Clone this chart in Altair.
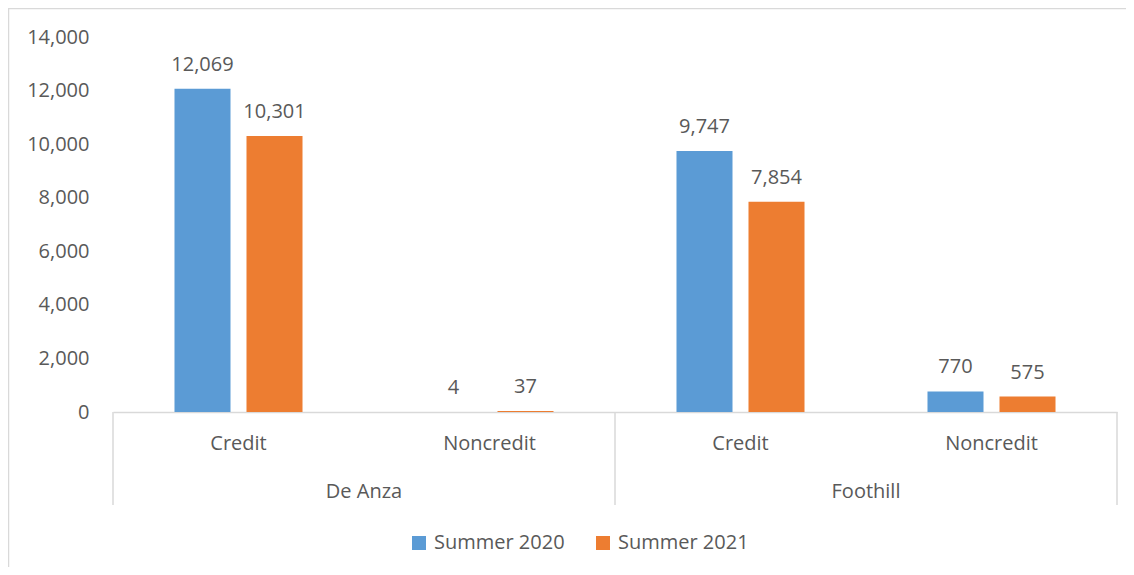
import altair as alt
import pandas as pd

colleges = ["De Anza", "De Anza", "Foothill", "Foothill"]
types = ["Credit", "Noncredit", "Credit", "Noncredit"]
summer_2020 = [12069, 4, 9747, 770]
summer_2021 = [10301, 37, 7854, 575]
series = ["Summer 2020", "Summer 2021"]
colors = ["#5B9BD5", "#ED7D31"]
y_ticks = [0, 2000, 4000, 6000, 8000, 10000, 12000, 14000]
group_names = ["De Anza", "Foothill"]

cat_order = [f"{c}|{t}" for c, t in zip(colleges, types)]
rows = []
for key, v0, v1 in zip(cat_order, summer_2020, summer_2021):
    rows.append({"cat": key, "series": series[0], "value": v0})
    rows.append({"cat": key, "series": series[1], "value": v1})
df = pd.DataFrame(rows)

W, H = 1004, 375
TXT = "#595959"
LINE = "#D9D9D9"
FS = 20

x_scale = alt.Scale(domain=cat_order, paddingInner=0, paddingOuter=0)
x_axis = alt.Axis(title=None, labelExpr="split(datum.label, '|')[1]", labelAngle=0,
                  ticks=False, tickSize=0, labelPadding=31, labelBaseline="middle",
                  labelFontSize=FS, labelColor=TXT, domainColor=LINE, domainWidth=1.5)


def xenc(band=0.5):
    return alt.X("cat:N", scale=x_scale, axis=x_axis, sort=cat_order, bandPosition=band)


xoff = alt.XOffset("series:N", sort=series,
                   scale=alt.Scale(domain=series, paddingInner=0.222, paddingOuter=0.854))
yenc = alt.Y("value:Q", scale=alt.Scale(domain=[0, 14000], nice=False),
             axis=alt.Axis(title=None, values=y_ticks, labelExpr="format(datum.value, ',')",
                           domain=False, ticks=False, grid=False, labelPadding=24,
                           labelFontSize=FS, labelColor=TXT))

base = alt.Chart(df)

bars = base.mark_bar().encode(
    x=alt.X("cat:N", scale=x_scale, axis=x_axis, sort=cat_order),
    xOffset=xoff,
    y=yenc,
    color=alt.Color("series:N", sort=series,
                    scale=alt.Scale(domain=series, range=colors),
                    legend=alt.Legend(title=None, orient="none", direction="horizontal",
                                      legendX=296, legendY=496, symbolType="square",
                                      symbolSize=196, symbolStrokeWidth=0, labelFontSize=FS,
                                      labelColor=TXT, labelOffset=5, columnPadding=28,
                                      padding=0)),
)

labels = base.mark_text(baseline="alphabetic", dy=-18, fontSize=FS, color=TXT).encode(
    x=alt.X("cat:N", scale=x_scale, axis=x_axis, sort=cat_order),
    xOffset=xoff,
    y=yenc,
    text=alt.Text("value:Q", format=","),
)

gdf = pd.DataFrame({"cat": [cat_order[0], cat_order[2]], "group": group_names})
groups = alt.Chart(gdf).mark_text(baseline="middle", fontSize=FS, color=TXT).encode(
    x=xenc(1), y=alt.value(H + 80), text="group:N"
)

sep_left = alt.Chart(pd.DataFrame({"cat": [cat_order[0], cat_order[2]]})).mark_rule(
    color=LINE, strokeWidth=1.5).encode(x=xenc(0), y=alt.value(H), y2=alt.value(H + 93))
sep_right = alt.Chart(pd.DataFrame({"cat": [cat_order[3]]})).mark_rule(
    color=LINE, strokeWidth=1.5).encode(x=xenc(1), y=alt.value(H), y2=alt.value(H + 93))

border = alt.Chart(pd.DataFrame({"a": [0]})).mark_rect(
    fill="transparent", stroke=LINE, strokeWidth=1.5).encode(
    x=alt.value(-104.5), x2=alt.value(W + 60), y=alt.value(-28.5), y2=alt.value(H + 300))

chart = alt.layer(border, bars, labels, sep_left, sep_right, groups).properties(
    width=W, height=H,
    padding={"left": 105, "top": 29, "right": 9, "bottom": 155},
    autosize=alt.AutoSizeParams(type="none"),
    background="white",
).configure(font="Open Sans").configure_view(stroke=None)

chart.save("out.html", embed_options={"renderer": "svg", "actions": False})
